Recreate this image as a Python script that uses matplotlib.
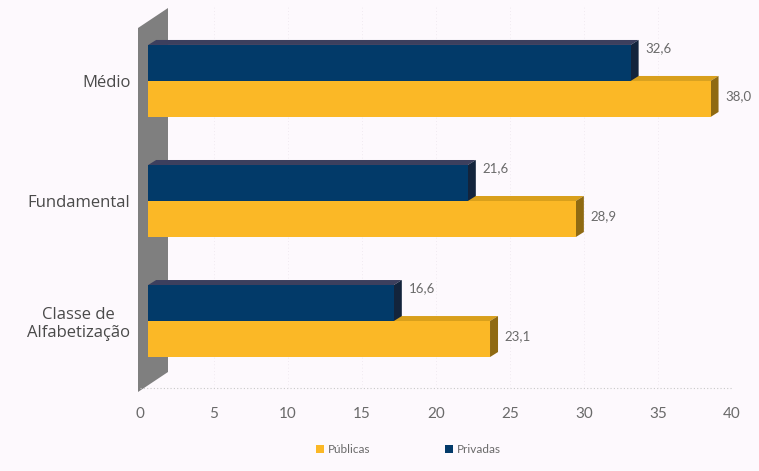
import matplotlib
matplotlib.use("Agg")
import matplotlib.pyplot as plt
from matplotlib.patches import Polygon, Patch
import numpy as np

# Dados
categorias = ["Classe de\nAlfabetização", "Fundamental", "Médio"]
publicas = [23.1, 28.9, 38.0]
privadas = [16.6, 21.6, 32.6]
xticks = [0, 5, 10, 15, 20, 25, 30, 35, 40]

W, H = 759, 471
bg = "#fdf9fd"
amarelo, amarelo_topo, amarelo_lado = "#fbb826", "#d9a01c", "#8f6a12"
azul, azul_topo, azul_lado = "#023a69", "#3c3f5e", "#13243c"

fig = plt.figure(figsize=(W / 100, H / 100), dpi=100, facecolor=bg)

# posição do eixo em pixels (origem no topo)
ax_l, ax_r, ax_t, ax_b = 140, 732, 5, 388
ax = fig.add_axes([ax_l / W, 1 - ax_b / H, (ax_r - ax_l) / W, (ax_b - ax_t) / H])
ax.set_facecolor("none")
ax.set_xlim(0, 40)
ax.set_ylim(-0.558, 2.633)


def px(x, y):
    return (x / W, 1 - y / H)


# parede cinza (efeito 3D)
parede = Polygon([px(138, 392), px(168, 372), px(168, 8), px(138, 28)],
                 closed=True, transform=fig.transFigure, facecolor="#7f7f7f",
                 edgecolor="none", zorder=0, clip_on=False)
ax.add_patch(parede)

# linha do chão
ax.plot([0, 40], [-0.558, -0.558], color="#c8c8c8", lw=0.8, ls=(0, (1, 2)),
        clip_on=False, zorder=1)
for t in xticks[1:]:
    ax.axvline(t, color="#ece4ec", lw=0.6, ls=(0, (1, 3)), zorder=0.5)

y = np.arange(len(categorias))
h = 0.30
x0 = 0.55  # deslocamento da face frontal (perspectiva)
dx = 8 / ((ax_r - ax_l) / 40)
dy = 5 / ((ax_b - ax_t) / 3.191)


def barra_3d(yc, v, topo, lado):
    base, cima = yc - h / 2, yc + h / 2
    fim = x0 + v
    ax.add_patch(Polygon([(x0, cima), (x0 + dx, cima + dy), (fim + dx, cima + dy), (fim, cima)],
                         closed=True, facecolor=topo, edgecolor="none", zorder=2))
    ax.add_patch(Polygon([(fim, base), (fim + dx, base + dy), (fim + dx, cima + dy), (fim, cima)],
                         closed=True, facecolor=lado, edgecolor="none", zorder=2))


for i in range(len(categorias)):
    yp = y[i] - h / 2
    barra_3d(yp, publicas[i], amarelo_topo, amarelo_lado)
    ax.barh(yp, publicas[i], left=x0, height=h, color=amarelo, zorder=3)
    ax.text(publicas[i] + x0 + 1.0, yp + 0.02, f"{publicas[i]:.1f}".replace(".", ","),
            va="center", ha="left", fontsize=9.5, color="#6a6a6a", family="Lato")

for i in range(len(categorias)):
    yd = y[i] + h / 2
    barra_3d(yd, privadas[i], azul_topo, azul_lado)
    ax.barh(yd, privadas[i], left=x0, height=h, color=azul, zorder=4)
    ax.text(privadas[i] + x0 + 1.0, yd + 0.12, f"{privadas[i]:.1f}".replace(".", ","),
            va="center", ha="left", fontsize=9.5, color="#6a6a6a", family="Lato")

ax.set_yticks(y)
ax.set_yticklabels(categorias, fontsize=12, color="#4a4a4a", family="Open Sans",
                   ha="right", multialignment="center")
ax.set_xticks(xticks)
ax.set_xticklabels([str(t) for t in xticks], fontsize=11, color="#6a6a6a", family="Lato")
ax.tick_params(axis="y", length=0, pad=7)
ax.tick_params(axis="x", length=0, pad=14)
for s in ax.spines.values():
    s.set_visible(False)

handles = [Patch(facecolor=amarelo, label="Públicas"),
           Patch(facecolor=azul, label="Privadas")]
leg = fig.legend(handles=handles, loc="center", bbox_to_anchor=(0.538, 0.045),
                 ncol=2, frameon=False, handlelength=0.7,
                 handleheight=0.7, handletextpad=0.3, columnspacing=6.3,
                 prop={"family": "Lato", "size": 8.5})
for t in leg.get_texts():
    t.set_color("#6a6a6a")

fig.savefig("out.png", dpi=100, facecolor=bg)
